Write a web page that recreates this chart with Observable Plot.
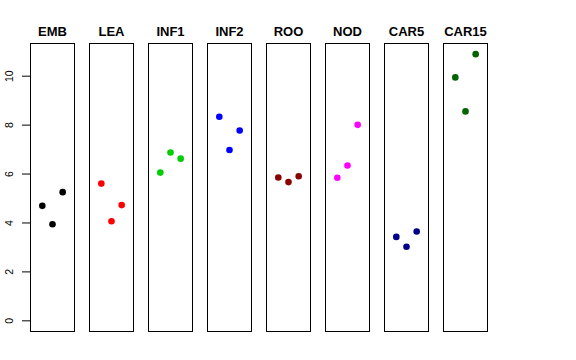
<!DOCTYPE html>
<html>
<head>
<meta charset="utf-8">
<script src="https://cdn.jsdelivr.net/npm/d3@7"></script>
<script src="https://cdn.jsdelivr.net/npm/@observablehq/plot@0.6"></script>
<style>
  html, body { margin: 0; padding: 0; background: white; }
  svg { font-family: "Liberation Sans", Arial, sans-serif; }
</style>
</head>
<body>
<div id="chart"></div>
<script>
const panels = ["EMB", "LEA", "INF1", "INF2", "ROO", "NOD", "CAR5", "CAR15"];
const colors = ["black", "red", "#00CD00", "blue", "#8B0000", "magenta", "#00008B", "#006400"];
const rep1 = [4.70, 5.61, 6.06, 8.34, 5.86, 5.85, 3.43, 9.95];
const rep2 = [3.95, 4.07, 6.88, 6.98, 5.67, 6.35, 3.03, 8.56];
const rep3 = [5.26, 4.73, 6.63, 7.78, 5.91, 8.01, 3.65, 10.90];
const yTicks = [0, 2, 4, 6, 8, 10];

const data = [];
panels.forEach((p, i) => {
  [rep1, rep2, rep3].forEach((rep, j) => {
    data.push({panel: p, rep: j + 1, value: rep[i], color: colors[i]});
  });
});

const chart = Plot.plot({
  width: 576,
  height: 360,
  marginTop: 43,
  marginBottom: 29,
  marginLeft: 28.7,
  marginRight: 88,
  style: {fontFamily: "'Liberation Sans', Arial, sans-serif", background: "white"},
  fx: {domain: panels, paddingInner: 0.247, paddingOuter: 0, label: null},
  x: {domain: [-0.16, 4.16], axis: null},
  y: {domain: [-0.436, 11.336], label: null},
  color: {type: "identity"},
  marks: [
    Plot.frame({stroke: "black", strokeWidth: 1}),
    Plot.axisY({ticks: yTicks, tickSize: 8, tickPadding: 10, tickRotate: -90, fontSize: 10.5, label: null, stroke: "black"}),
    Plot.axisFx({anchor: "top", tickSize: 0, tickPadding: 8, fontSize: 13, fontWeight: "bold", label: null}),
    Plot.dot(data, {fx: "panel", x: "rep", y: "value", fill: "color", r: 3.3, stroke: null})
  ]
});
document.getElementById("chart").appendChild(chart);
</script>
</body>
</html>
